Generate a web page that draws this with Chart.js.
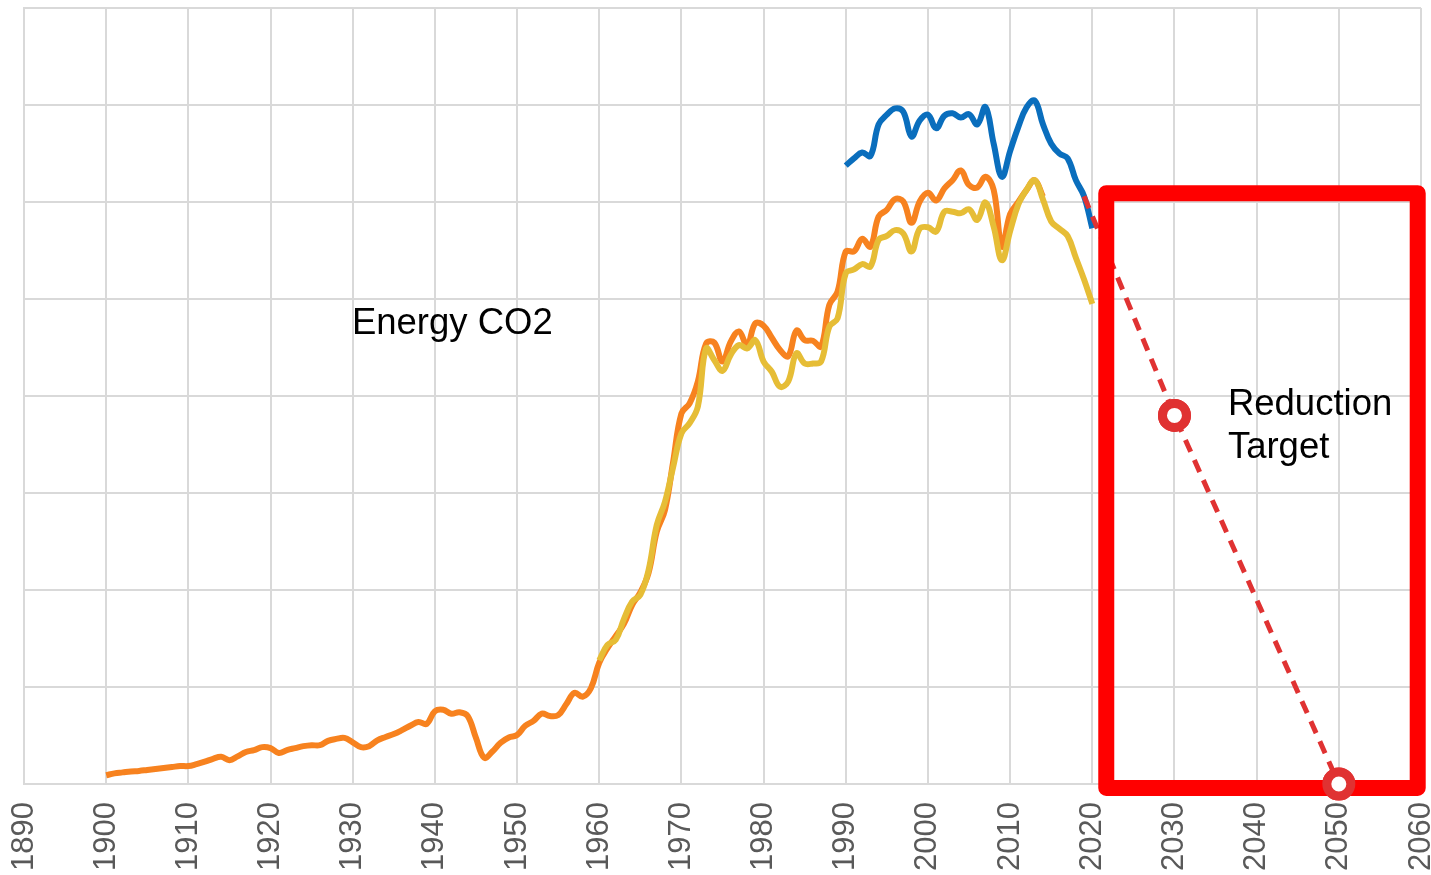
<!DOCTYPE html>
<html>
<head>
<meta charset="utf-8">
<script src="https://cdn.jsdelivr.net/npm/chart.js@4.4.0/dist/chart.umd.min.js"></script>
<style>
  html, body { margin: 0; padding: 0; background: #fff; }
  #wrap { width: 1431px; height: 875px; }
</style>
</head>
<body>
<div id="wrap"><canvas id="co2Chart"></canvas></div>
<script>
// Energy CO2 (orange), 1900-2014
const energyYears = [];
for (let y = 1900; y <= 2014; y++) energyYears.push(y);
const energyCO2 = [
  18, 22, 24, 26, 27, 29, 31, 33, 35, 37,
  37, 41, 46, 52, 56, 49, 57, 66, 70, 76,
  74, 64, 70, 74, 78, 80, 80, 89, 93, 95,
  86, 76, 78, 90, 97, 103, 111, 120, 128, 124,
  150, 153, 145, 148, 140, 95, 54, 67, 85, 96,
  101, 120, 130, 145, 140, 142, 165, 188, 180, 198,
  250, 280, 305, 330, 369, 395, 435, 520, 565, 665,
  764, 785, 830, 908, 910, 871, 912, 933, 905, 950,
  945, 920, 895, 882, 935, 915, 914, 902, 988, 1015,
  1098, 1098, 1124, 1108, 1170, 1184, 1206, 1201, 1157, 1201,
  1219, 1203, 1228, 1245, 1265, 1235, 1230, 1252, 1225, 1108,
  1175, 1200, 1225, 1245, 1211
];

// Energy CO2, second source (yellow), 1960-2020
const energyYears2 = [];
for (let y = 1960; y <= 2020; y++) energyYears2.push(y);
const energyCO2b = [
  255, 287, 297, 340, 376, 390, 441, 534, 582, 654,
  723, 744, 778, 898, 874, 852, 885, 905, 898, 915,
  871, 850, 819, 830, 888, 867, 867, 871, 943, 960,
  1053, 1061, 1072, 1067, 1122, 1130, 1142, 1135, 1098, 1145,
  1148, 1139, 1180, 1180, 1177, 1185, 1163, 1199, 1149, 1080,
  1140, 1195, 1225, 1245, 1205, 1160, 1145, 1130, 1085, 1040,
  990
];

// Total GHG (blue), 1990-2020
const ghgYears = [];
for (let y = 1990; y <= 2020; y++) ghgYears.push(y);
const ghgTotal = [
  1275, 1290, 1302, 1295, 1360, 1380, 1393, 1386, 1335, 1368,
  1380, 1352, 1378, 1383, 1374, 1381, 1360, 1396, 1320, 1252,
  1305, 1355, 1395, 1409, 1360, 1320, 1300, 1290, 1245, 1212,
  1146
];

// Reduction target path
const targetYears = [2019, 2030, 2050];
const targetValues = [1212, 760, 0];

const xTicks = [1890, 1900, 1910, 1920, 1930, 1940, 1950, 1960, 1970, 1980,
                1990, 2000, 2010, 2020, 2030, 2040, 2050, 2060];

function toPoints(xs, ys) {
  return xs.map((x, i) => ({ x: x, y: ys[i] }));
}

// annotations (data coordinates)
const labels = [
  { text: 'Energy CO2', x: 1929.9, y: 928 },
  { text: 'Reduction', x: 2036.5, y: 761 },
  { text: 'Target', x: 2036.5, y: 672 }
];
const targetBox = { x0: 2021.7, x1: 2059.6, y0: -8, y1: 1218 };

const annotationPlugin = {
  id: 'annotations',
  beforeDatasetsDraw(chart) {
    const { ctx, scales: { x, y } } = chart;
    ctx.save();
    ctx.font = '36.5px "Liberation Sans", Arial, sans-serif';
    ctx.fillStyle = '#000';
    ctx.textBaseline = 'alphabetic';
    labels.forEach(l => ctx.fillText(l.text, x.getPixelForValue(l.x), y.getPixelForValue(l.y)));
    ctx.restore();
  },
  afterDatasetsDraw(chart) {
    const { ctx, scales: { x, y } } = chart;
    const left = x.getPixelForValue(targetBox.x0);
    const right = x.getPixelForValue(targetBox.x1);
    const top = y.getPixelForValue(targetBox.y1);
    const bottom = y.getPixelForValue(targetBox.y0);
    ctx.save();
    ctx.strokeStyle = '#FF0000';
    ctx.lineWidth = 16;
    ctx.lineJoin = 'round';
    ctx.strokeRect(left, top, right - left, bottom - top);
    ctx.restore();
  }
};

// draw the target markers again on top of the box
const markerPlugin = {
  id: 'markersOnTop',
  afterDraw(chart) {
    const meta = chart.getDatasetMeta(3);
    const ctx = chart.ctx;
    meta.data.forEach((pt, i) => {
      if (i === 0) return;
      ctx.save();
      ctx.beginPath();
      ctx.arc(pt.x, pt.y, 12, 0, Math.PI * 2);
      ctx.fillStyle = '#fff';
      ctx.fill();
      ctx.lineWidth = 9;
      ctx.strokeStyle = '#E03232';
      ctx.stroke();
      ctx.restore();
    });
  }
};

const ctx = document.getElementById('co2Chart').getContext('2d');
new Chart(ctx, {
  type: 'line',
  data: {
    datasets: [
      {
        label: 'Energy CO2',
        data: toPoints(energyYears, energyCO2),
        borderColor: '#F7821F',
        borderWidth: 6,
        pointRadius: 0,
        tension: 0.4,
        order: 4
      },
      {
        label: 'Energy CO2 (2)',
        data: toPoints(energyYears2, energyCO2b),
        borderColor: '#E6BD36',
        borderWidth: 6,
        pointRadius: 0,
        tension: 0.4,
        order: 3
      },
      {
        label: 'GHG total',
        data: toPoints(ghgYears, ghgTotal),
        borderColor: '#0A6EBD',
        borderWidth: 6,
        pointRadius: 0,
        tension: 0.4,
        order: 2
      },
      {
        label: 'Target',
        data: toPoints(targetYears, targetValues),
        borderColor: '#E03232',
        borderWidth: 5,
        borderDash: [13, 9],
        pointRadius: [0, 12, 12],
        pointBorderWidth: 9,
        pointBorderColor: '#E03232',
        pointBackgroundColor: '#fff',
        tension: 0,
        clip: false,
        order: 1
      }
    ]
  },
  options: {
    responsive: true,
    maintainAspectRatio: false,
    animation: false,
    layout: { autoPadding: false, padding: { top: 8, left: 24, right: 10, bottom: 0 } },
    plugins: {
      legend: { display: false },
      tooltip: { enabled: false }
    },
    scales: {
      x: {
        type: 'linear',
        min: 1890,
        max: 2060,
        afterBuildTicks: axis => { axis.ticks = xTicks.map(v => ({ value: v })); },
        afterFit: axis => {
          axis.paddingLeft = 0;
          axis.paddingRight = 0;
          axis.height = 91;
        },
        ticks: {
          callback: v => String(v),
          minRotation: 90,
          maxRotation: 90,
          padding: 18,
          color: '#595959',
          font: { family: '"Liberation Sans", Arial, sans-serif', size: 31 }
        },
        grid: { color: '#D9D9D9', lineWidth: 2, drawTicks: false },
        border: { color: '#D9D9D9', width: 2 }
      },
      y: {
        min: 0,
        max: 1600,
        afterFit: axis => {
          axis.paddingTop = 0;
          axis.paddingBottom = 0;
          axis.width = 0;
        },
        ticks: { stepSize: 200, display: false },
        grid: { color: '#D9D9D9', lineWidth: 2, drawTicks: false },
        border: { color: '#D9D9D9', width: 2 }
      }
    }
  },
  plugins: [annotationPlugin, markerPlugin]
});
</script>
</body>
</html>
